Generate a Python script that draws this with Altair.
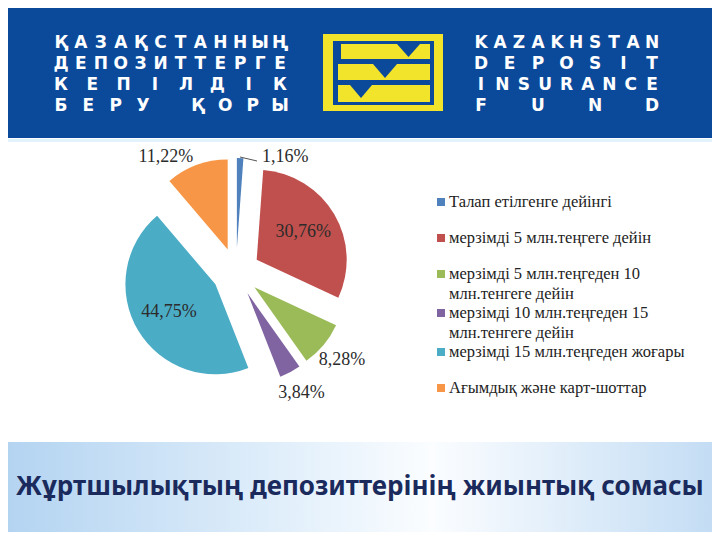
import math
import altair as alt
import pandas as pd

# ---------------- data ----------------
categories = [
    "Талап етілгенге дейінгі",
    "мерзімді 5 млн.теңгеге дейін",
    "мерзімді 5 млн.теңгеден 10\nмлн.тенгеге дейін",
    "мерзімді 10 млн.теңгеден 15\nмлн.тенгеге дейін",
    "мерзімді 15 млн.теңгеден жоғары",
    "Ағымдық және карт-шоттар",
]
values = [1.16, 30.76, 8.28, 3.84, 44.75, 11.22]
value_labels = ["1,16%", "30,76%", "8,28%", "3,84%", "44,75%", "11,22%"]
colors = ["#4F81BD", "#C0504D", "#9BBB59", "#8064A2", "#4BACC6", "#F79646"]

title_text = "Жұртшылықтың депозиттерінің жиынтық сомасы"
banner_left = ["ҚАЗАҚСТАННЫҢ", "ДЕПОЗИТТЕРГЕ", "КЕПІЛДІК", "БЕРУ ҚОРЫ"]
banner_right = ["KAZAKHSTAN", "DEPOSIT", "INSURANCE", "FUND"]

# ---------------- layout ----------------
W, H = 704, 524
OFF = 8  # page margin
XS = alt.Scale(domain=[OFF, OFF + W], range=[0, W], nice=False, zero=False)
YS = alt.Scale(domain=[OFF, OFF + H], range=[0, H], nice=False, zero=False)
CX, CY, R, EXP = 236, 272, 90, 24
R_IN, R_OUT, LABEL_TOP = 78, 138, 157
SERIF = "Liberation Serif"
BLUE = "#0b4a9b"
YELLOW = "#f2e32b"

pie_df = pd.DataFrame({"idx": range(len(values)), "cat": categories,
                       "value": values, "label": value_labels})
one = pd.DataFrame({"k": [0]})


def px(v):
    return v - OFF


def rect(x0, x1, y0, y1, color):
    return alt.Chart(one).mark_rect(color=color).encode(
        x=alt.value(px(x0)), x2=alt.value(px(x1)),
        y=alt.value(px(y0)), y2=alt.value(px(y1)))


def notch(xc, top, w, h):
    k = h / w
    shape = f"M -1 {-k} L 1 {-k} L 0 {k} Z"
    return alt.Chart(one).mark_point(shape=shape, size=w * w, filled=True,
                                     color=BLUE, opacity=1, strokeWidth=0).encode(
        x=alt.value(px(xc)), y=alt.value(px(top + h / 2)))


def spread(lines, left, right, baselines, cw):
    rows = []
    for line, yb in zip(lines, baselines):
        n = len(line)
        step = (right - left - cw) / (n - 1)
        for i, ch in enumerate(line):
            if ch != " ":
                rows.append({"ch": ch, "x": left + cw / 2 + i * step, "y": yb})
    return pd.DataFrame(rows)


baselines = [48, 69, 90, 111]
banner_chars = pd.concat([
    spread(banner_left, 53, 288, baselines, 16),
    spread(banner_right, 473, 660, baselines, 16),
])

# ---------------- decorations ----------------
banner = rect(0, 720, 0, 138, BLUE)
thin = rect(0, 720, 139, 142, "#e2f3fb")
grad = alt.Chart(one).mark_rect(color=alt.LinearGradient(
    gradient="linear", x1=0, x2=1, y1=0, y2=0,
    stops=[alt.GradientStop(offset=0, color="#b2d3f1"),
           alt.GradientStop(offset=0.45, color="#e8f3fc"),
           alt.GradientStop(offset=0.6, color="#fbfdff"),
           alt.GradientStop(offset=1, color="#c2dcf4")])).encode(
    x=alt.value(px(0)), x2=alt.value(px(720)),
    y=alt.value(px(442)), y2=alt.value(px(540)))

logo = [
    rect(323, 443, 34, 111, YELLOW),
    rect(333, 434, 41, 105, BLUE),
    rect(341, 430, 44, 59, YELLOW),
    rect(338, 430, 64, 80, YELLOW),
    rect(338, 430, 85, 102, YELLOW),
    notch(408.5, 44, 23, 13),
    notch(385, 64, 24, 14),
    notch(361, 85, 22, 13),
]

btext = alt.Chart(banner_chars).mark_text(
    font="DejaVu Sans", fontWeight="bold", fontSize=17, color="white",
    align="center", baseline="alphabetic").encode(
    x=alt.X("x:Q", scale=XS, axis=None), y=alt.Y("y:Q", scale=YS, axis=None),
    text="ch:N")

# ---------------- pie ----------------
base = (alt.Chart(pie_df)
        .transform_joinaggregate(total="sum(value)")
        .transform_window(cum="sum(value)", sort=[alt.SortField("idx")], frame=[None, 0])
        .transform_calculate(f0="(datum.cum - datum.value) / datum.total")
        .transform_calculate(f1="datum.cum / datum.total")
        .transform_calculate(mid="(datum.f0 + datum.f1) * PI")
        .transform_calculate(ex=f"{CX} + {EXP} * sin(datum.mid)")
        .transform_calculate(ey=f"{CY} - {EXP} * cos(datum.mid)")
        .transform_calculate(rl=f"datum.value > 20 ? {R_IN} : {R_OUT}")
        .transform_calculate(lx=f"{CX} + datum.rl * sin(datum.mid)")
        .transform_calculate(ly0=f"{CY} - datum.rl * cos(datum.mid)")
        .transform_calculate(ly=f"max(datum.ly0, {LABEL_TOP})")
        .transform_calculate(clamped=f"datum.ly0 < {LABEL_TOP}")
        .transform_calculate(side="sin(datum.mid) >= 0 ? 1 : -1")
        .transform_calculate(lead0="datum.lx - 1")
        .transform_calculate(lead1="datum.lx + 16")
        .transform_calculate(leady2="datum.ly + 4"))

color = alt.Color("cat:N", scale=alt.Scale(domain=categories, range=colors), legend=None)

arcs = base.mark_arc(radius=R).encode(
    x=alt.X("ex:Q", scale=XS, axis=None),
    y=alt.Y("ey:Q", scale=YS, axis=None),
    theta=alt.Theta("f0:Q", scale=alt.Scale(domain=[0, 1], range=[0, 2 * math.pi]), stack=False),
    theta2="f1:Q",
    color=color)

lab_enc = dict(x=alt.X("lx:Q", scale=XS, axis=None),
               y=alt.Y("ly:Q", scale=YS, axis=None), text="label:N")
lab_style = dict(font=SERIF, fontSize=18, color="#2b2b2b", baseline="middle")
lab_a = base.transform_filter("!datum.clamped").mark_text(align="center", **lab_style).encode(**lab_enc)
lab_b = base.transform_filter("datum.clamped && datum.side > 0").mark_text(
    align="left", dx=21, **lab_style).encode(**lab_enc)
lab_c = base.transform_filter("datum.clamped && datum.side < 0").mark_text(
    align="right", dx=5, **lab_style).encode(**lab_enc)
leader = base.transform_filter("datum.clamped && datum.side > 0").mark_rule(
    color="#555555", strokeWidth=1).encode(
    x=alt.X("lead0:Q", scale=XS, axis=None), x2="lead1:Q",
    y=alt.Y("ly:Q", scale=YS, axis=None), y2="leady2:Q")

# ---------------- legend ----------------
leg = (alt.Chart(pie_df)
       .transform_calculate(
           legy="202 + 36 * datum.idx + (datum.idx >= 3 ? 3 : 0) + (datum.idx >= 4 ? 3 : 0)")
       .transform_calculate(legty="datum.legy + 5"))
leg_sq = leg.mark_square(size=64, opacity=1).encode(
    x=alt.value(px(441)), y=alt.Y("legy:Q", scale=YS, axis=None), color=color)
leg_tx = leg.mark_text(font=SERIF, fontSize=16.5, color="#222222", align="left",
                       baseline="alphabetic", lineBreak="\n", lineHeight=19.5).encode(
    x=alt.value(px(449)), y=alt.Y("legty:Q", scale=YS, axis=None), text="cat:N")

title = alt.Chart(one).mark_text(
    text=title_text, font="Noto Sans", fontWeight="bold", fontSize=26,
    color="#1b2a5c", align="left", baseline="alphabetic").encode(
    x=alt.value(px(16)), y=alt.value(px(495)))

chart = alt.layer(
    banner, thin, grad, *logo, btext, arcs, leader, lab_a, lab_b, lab_c,
    leg_sq, leg_tx, title
).properties(
    width=W, height=H, padding=0, background="white",
    autosize=alt.AutoSizeParams(type="none")
).configure_view(strokeWidth=0)

chart.save("out.html", embed_options={"renderer": "svg", "actions": False})
